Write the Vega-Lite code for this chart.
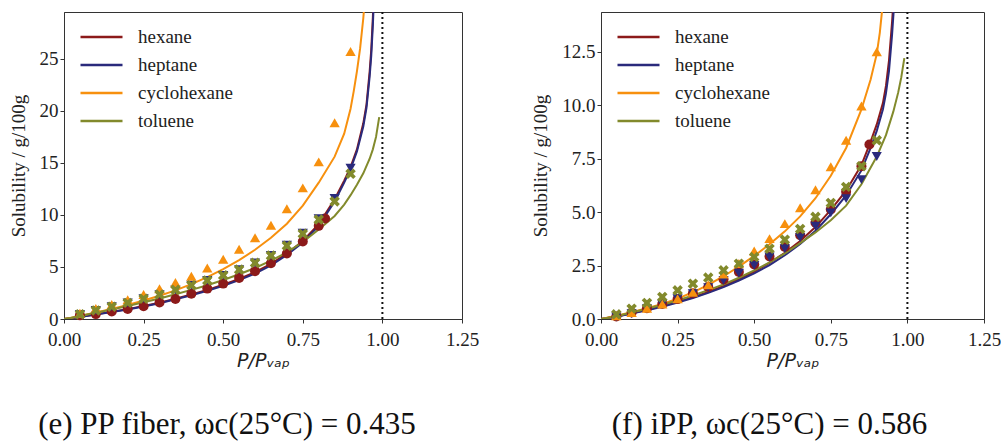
{
  "$schema": "https://vega.github.io/schema/vega-lite/v6.json",
  "background": "white",
  "padding": {"left": 8, "top": 10, "right": 0, "bottom": 0},
  "spacing": 139,
  "bounds": "flush",
  "config": {
    "view": {"stroke": "#333", "strokeWidth": 1},
    "scale": {"continuousPadding": 0},
    "axis": {
      "grid": false,
      "labelFlush": false,
      "labelFont": "Liberation Serif",
      "labelFontSize": 19,
      "labelColor": "#222",
      "tickColor": "#333",
      "domainColor": "#333",
      "tickSize": 4,
      "labelPadding": 2,
      "titleColor": "#222",
      "titleFontWeight": "normal"
    },
    "axisX": {"labelPadding": 7},
    "legend": {
      "orient": "none",
      "padding": 0,
      "symbolType": "M-2,0L2,0",
      "symbolSize": 441,
      "symbolStrokeWidth": 2.5,
      "symbolFillColor": "transparent",
      "labelFont": "Liberation Serif",
      "labelFontSize": 19,
      "labelColor": "#222",
      "labelOffset": 24.5,
      "rowPadding": 6,
      "title": null
    }
  },
  "resolve": {"legend": {"color": "independent"}, "scale": {"y": "independent"}},
  "datasets": {
    "lines": [
      {"p":"e","s":"hexane","x":0,"y":0},{"p":"e","s":"hexane","x":0.02,"y":0.07},{"p":"e","s":"hexane","x":0.05,"y":0.2},{"p":"e","s":"hexane","x":0.1,"y":0.45},{"p":"e","s":"hexane","x":0.15,"y":0.7},{"p":"e","s":"hexane","x":0.2,"y":0.95},{"p":"e","s":"hexane","x":0.25,"y":1.25},{"p":"e","s":"hexane","x":0.3,"y":1.57},{"p":"e","s":"hexane","x":0.35,"y":1.95},{"p":"e","s":"hexane","x":0.4,"y":2.35},{"p":"e","s":"hexane","x":0.45,"y":2.8},{"p":"e","s":"hexane","x":0.5,"y":3.3},{"p":"e","s":"hexane","x":0.55,"y":3.85},{"p":"e","s":"hexane","x":0.6,"y":4.5},{"p":"e","s":"hexane","x":0.65,"y":5.3},{"p":"e","s":"hexane","x":0.7,"y":6.3},{"p":"e","s":"hexane","x":0.75,"y":7.5},{"p":"e","s":"hexane","x":0.8,"y":9.1},{"p":"e","s":"hexane","x":0.85,"y":11.5},{"p":"e","s":"hexane","x":0.88,"y":13.3},{"p":"e","s":"hexane","x":0.9,"y":14.6},{"p":"e","s":"hexane","x":0.92,"y":16.3},{"p":"e","s":"hexane","x":0.94,"y":18.8},{"p":"e","s":"hexane","x":0.95,"y":20.6},{"p":"e","s":"hexane","x":0.96,"y":23.8},{"p":"e","s":"hexane","x":0.965,"y":25.9},{"p":"e","s":"hexane","x":0.97,"y":29.0},{"p":"e","s":"hexane","x":0.975,"y":33.0},
      {"p":"e","s":"heptane","x":0,"y":0},{"p":"e","s":"heptane","x":0.02,"y":0.07},{"p":"e","s":"heptane","x":0.05,"y":0.19},{"p":"e","s":"heptane","x":0.1,"y":0.44},{"p":"e","s":"heptane","x":0.15,"y":0.68},{"p":"e","s":"heptane","x":0.2,"y":0.92},{"p":"e","s":"heptane","x":0.25,"y":1.21},{"p":"e","s":"heptane","x":0.3,"y":1.52},{"p":"e","s":"heptane","x":0.35,"y":1.89},{"p":"e","s":"heptane","x":0.4,"y":2.28},{"p":"e","s":"heptane","x":0.45,"y":2.72},{"p":"e","s":"heptane","x":0.5,"y":3.2},{"p":"e","s":"heptane","x":0.55,"y":3.74},{"p":"e","s":"heptane","x":0.6,"y":4.37},{"p":"e","s":"heptane","x":0.65,"y":5.15},{"p":"e","s":"heptane","x":0.7,"y":6.15},{"p":"e","s":"heptane","x":0.75,"y":7.35},{"p":"e","s":"heptane","x":0.8,"y":8.95},{"p":"e","s":"heptane","x":0.85,"y":11.3},{"p":"e","s":"heptane","x":0.88,"y":13.1},{"p":"e","s":"heptane","x":0.9,"y":14.4},{"p":"e","s":"heptane","x":0.92,"y":16.1},{"p":"e","s":"heptane","x":0.94,"y":18.5},{"p":"e","s":"heptane","x":0.95,"y":20.3},{"p":"e","s":"heptane","x":0.96,"y":23.3},{"p":"e","s":"heptane","x":0.965,"y":25.3},{"p":"e","s":"heptane","x":0.97,"y":28.2},{"p":"e","s":"heptane","x":0.975,"y":32.0},
      {"p":"e","s":"cyclohexane","x":0,"y":0},{"p":"e","s":"cyclohexane","x":0.02,"y":0.1},{"p":"e","s":"cyclohexane","x":0.05,"y":0.3},{"p":"e","s":"cyclohexane","x":0.1,"y":0.62},{"p":"e","s":"cyclohexane","x":0.15,"y":0.97},{"p":"e","s":"cyclohexane","x":0.2,"y":1.35},{"p":"e","s":"cyclohexane","x":0.25,"y":1.77},{"p":"e","s":"cyclohexane","x":0.3,"y":2.23},{"p":"e","s":"cyclohexane","x":0.35,"y":2.75},{"p":"e","s":"cyclohexane","x":0.4,"y":3.35},{"p":"e","s":"cyclohexane","x":0.45,"y":4.02},{"p":"e","s":"cyclohexane","x":0.5,"y":4.8},{"p":"e","s":"cyclohexane","x":0.55,"y":5.65},{"p":"e","s":"cyclohexane","x":0.6,"y":6.65},{"p":"e","s":"cyclohexane","x":0.65,"y":7.8},{"p":"e","s":"cyclohexane","x":0.7,"y":9.15},{"p":"e","s":"cyclohexane","x":0.75,"y":10.9},{"p":"e","s":"cyclohexane","x":0.8,"y":13.1},{"p":"e","s":"cyclohexane","x":0.85,"y":15.6},{"p":"e","s":"cyclohexane","x":0.88,"y":17.8},{"p":"e","s":"cyclohexane","x":0.9,"y":20.2},{"p":"e","s":"cyclohexane","x":0.91,"y":21.9},{"p":"e","s":"cyclohexane","x":0.92,"y":23.8},{"p":"e","s":"cyclohexane","x":0.93,"y":26.0},{"p":"e","s":"cyclohexane","x":0.94,"y":28.9},{"p":"e","s":"cyclohexane","x":0.945,"y":30.8},
      {"p":"e","s":"toluene","x":0,"y":0},{"p":"e","s":"toluene","x":0.02,"y":0.1},{"p":"e","s":"toluene","x":0.05,"y":0.28},{"p":"e","s":"toluene","x":0.1,"y":0.6},{"p":"e","s":"toluene","x":0.15,"y":0.92},{"p":"e","s":"toluene","x":0.2,"y":1.25},{"p":"e","s":"toluene","x":0.25,"y":1.6},{"p":"e","s":"toluene","x":0.3,"y":1.97},{"p":"e","s":"toluene","x":0.35,"y":2.37},{"p":"e","s":"toluene","x":0.4,"y":2.8},{"p":"e","s":"toluene","x":0.45,"y":3.25},{"p":"e","s":"toluene","x":0.5,"y":3.75},{"p":"e","s":"toluene","x":0.55,"y":4.3},{"p":"e","s":"toluene","x":0.6,"y":4.9},{"p":"e","s":"toluene","x":0.65,"y":5.6},{"p":"e","s":"toluene","x":0.7,"y":6.4},{"p":"e","s":"toluene","x":0.75,"y":7.4},{"p":"e","s":"toluene","x":0.8,"y":8.6},{"p":"e","s":"toluene","x":0.85,"y":9.9},{"p":"e","s":"toluene","x":0.88,"y":11.0},{"p":"e","s":"toluene","x":0.9,"y":11.9},{"p":"e","s":"toluene","x":0.92,"y":12.9},{"p":"e","s":"toluene","x":0.94,"y":14.0},{"p":"e","s":"toluene","x":0.96,"y":15.4},{"p":"e","s":"toluene","x":0.97,"y":16.3},{"p":"e","s":"toluene","x":0.98,"y":17.5},{"p":"e","s":"toluene","x":0.99,"y":19.4},
      {"p":"f","s":"hexane","x":0,"y":0},{"p":"f","s":"hexane","x":0.02,"y":0.05},{"p":"f","s":"hexane","x":0.05,"y":0.12},{"p":"f","s":"hexane","x":0.1,"y":0.27},{"p":"f","s":"hexane","x":0.15,"y":0.43},{"p":"f","s":"hexane","x":0.2,"y":0.6},{"p":"f","s":"hexane","x":0.25,"y":0.8},{"p":"f","s":"hexane","x":0.3,"y":1.02},{"p":"f","s":"hexane","x":0.35,"y":1.27},{"p":"f","s":"hexane","x":0.4,"y":1.55},{"p":"f","s":"hexane","x":0.45,"y":1.87},{"p":"f","s":"hexane","x":0.5,"y":2.22},{"p":"f","s":"hexane","x":0.55,"y":2.62},{"p":"f","s":"hexane","x":0.6,"y":3.1},{"p":"f","s":"hexane","x":0.65,"y":3.65},{"p":"f","s":"hexane","x":0.7,"y":4.3},{"p":"f","s":"hexane","x":0.75,"y":5.1},{"p":"f","s":"hexane","x":0.8,"y":6.0},{"p":"f","s":"hexane","x":0.85,"y":7.2},{"p":"f","s":"hexane","x":0.88,"y":8.3},{"p":"f","s":"hexane","x":0.9,"y":9.1},{"p":"f","s":"hexane","x":0.92,"y":10.1},{"p":"f","s":"hexane","x":0.93,"y":10.9},{"p":"f","s":"hexane","x":0.94,"y":12.1},{"p":"f","s":"hexane","x":0.95,"y":13.9},{"p":"f","s":"hexane","x":0.955,"y":15.0},
      {"p":"f","s":"heptane","x":0,"y":0},{"p":"f","s":"heptane","x":0.02,"y":0.05},{"p":"f","s":"heptane","x":0.05,"y":0.11},{"p":"f","s":"heptane","x":0.1,"y":0.26},{"p":"f","s":"heptane","x":0.15,"y":0.41},{"p":"f","s":"heptane","x":0.2,"y":0.57},{"p":"f","s":"heptane","x":0.25,"y":0.77},{"p":"f","s":"heptane","x":0.3,"y":0.98},{"p":"f","s":"heptane","x":0.35,"y":1.22},{"p":"f","s":"heptane","x":0.4,"y":1.49},{"p":"f","s":"heptane","x":0.45,"y":1.8},{"p":"f","s":"heptane","x":0.5,"y":2.13},{"p":"f","s":"heptane","x":0.55,"y":2.52},{"p":"f","s":"heptane","x":0.6,"y":2.98},{"p":"f","s":"heptane","x":0.65,"y":3.51},{"p":"f","s":"heptane","x":0.7,"y":4.13},{"p":"f","s":"heptane","x":0.75,"y":4.9},{"p":"f","s":"heptane","x":0.8,"y":5.78},{"p":"f","s":"heptane","x":0.85,"y":6.95},{"p":"f","s":"heptane","x":0.88,"y":8.0},{"p":"f","s":"heptane","x":0.9,"y":8.8},{"p":"f","s":"heptane","x":0.92,"y":9.8},{"p":"f","s":"heptane","x":0.93,"y":10.55},{"p":"f","s":"heptane","x":0.94,"y":11.6},{"p":"f","s":"heptane","x":0.95,"y":13.3},{"p":"f","s":"heptane","x":0.958,"y":15.0},
      {"p":"f","s":"cyclohexane","x":0,"y":0},{"p":"f","s":"cyclohexane","x":0.02,"y":0.06},{"p":"f","s":"cyclohexane","x":0.05,"y":0.15},{"p":"f","s":"cyclohexane","x":0.1,"y":0.32},{"p":"f","s":"cyclohexane","x":0.15,"y":0.5},{"p":"f","s":"cyclohexane","x":0.2,"y":0.7},{"p":"f","s":"cyclohexane","x":0.25,"y":0.95},{"p":"f","s":"cyclohexane","x":0.3,"y":1.25},{"p":"f","s":"cyclohexane","x":0.35,"y":1.6},{"p":"f","s":"cyclohexane","x":0.4,"y":2.0},{"p":"f","s":"cyclohexane","x":0.45,"y":2.45},{"p":"f","s":"cyclohexane","x":0.5,"y":2.95},{"p":"f","s":"cyclohexane","x":0.55,"y":3.5},{"p":"f","s":"cyclohexane","x":0.6,"y":4.1},{"p":"f","s":"cyclohexane","x":0.65,"y":4.8},{"p":"f","s":"cyclohexane","x":0.7,"y":5.65},{"p":"f","s":"cyclohexane","x":0.75,"y":6.7},{"p":"f","s":"cyclohexane","x":0.8,"y":8.0},{"p":"f","s":"cyclohexane","x":0.85,"y":9.8},{"p":"f","s":"cyclohexane","x":0.88,"y":11.2},{"p":"f","s":"cyclohexane","x":0.9,"y":12.4},{"p":"f","s":"cyclohexane","x":0.91,"y":13.4},{"p":"f","s":"cyclohexane","x":0.92,"y":14.8},
      {"p":"f","s":"toluene","x":0,"y":0},{"p":"f","s":"toluene","x":0.02,"y":0.05},{"p":"f","s":"toluene","x":0.05,"y":0.13},{"p":"f","s":"toluene","x":0.1,"y":0.3},{"p":"f","s":"toluene","x":0.15,"y":0.48},{"p":"f","s":"toluene","x":0.2,"y":0.67},{"p":"f","s":"toluene","x":0.25,"y":0.87},{"p":"f","s":"toluene","x":0.3,"y":1.1},{"p":"f","s":"toluene","x":0.35,"y":1.35},{"p":"f","s":"toluene","x":0.4,"y":1.62},{"p":"f","s":"toluene","x":0.45,"y":1.93},{"p":"f","s":"toluene","x":0.5,"y":2.27},{"p":"f","s":"toluene","x":0.55,"y":2.65},{"p":"f","s":"toluene","x":0.6,"y":3.07},{"p":"f","s":"toluene","x":0.65,"y":3.55},{"p":"f","s":"toluene","x":0.7,"y":4.05},{"p":"f","s":"toluene","x":0.75,"y":4.62},{"p":"f","s":"toluene","x":0.8,"y":5.3},{"p":"f","s":"toluene","x":0.85,"y":6.3},{"p":"f","s":"toluene","x":0.9,"y":7.6},{"p":"f","s":"toluene","x":0.93,"y":8.6},{"p":"f","s":"toluene","x":0.954,"y":9.7},{"p":"f","s":"toluene","x":0.97,"y":10.6},{"p":"f","s":"toluene","x":0.98,"y":11.3},{"p":"f","s":"toluene","x":0.99,"y":12.2}
    ],
    "pts": [
      {"p":"e","s":"hexane","x":0.05,"y":0.35},{"p":"e","s":"hexane","x":0.1,"y":0.47},{"p":"e","s":"hexane","x":0.15,"y":0.72},{"p":"e","s":"hexane","x":0.2,"y":0.97},{"p":"e","s":"hexane","x":0.25,"y":1.23},{"p":"e","s":"hexane","x":0.3,"y":1.58},{"p":"e","s":"hexane","x":0.35,"y":1.92},{"p":"e","s":"hexane","x":0.4,"y":2.42},{"p":"e","s":"hexane","x":0.45,"y":2.92},{"p":"e","s":"hexane","x":0.5,"y":3.4},{"p":"e","s":"hexane","x":0.55,"y":3.95},{"p":"e","s":"hexane","x":0.6,"y":4.6},{"p":"e","s":"hexane","x":0.65,"y":5.35},{"p":"e","s":"hexane","x":0.7,"y":6.3},{"p":"e","s":"hexane","x":0.75,"y":7.45},{"p":"e","s":"hexane","x":0.8,"y":8.95},{"p":"e","s":"hexane","x":0.82,"y":9.65},
      {"p":"e","s":"heptane","x":0.05,"y":0.45},{"p":"e","s":"heptane","x":0.1,"y":0.82},{"p":"e","s":"heptane","x":0.15,"y":1.18},{"p":"e","s":"heptane","x":0.2,"y":1.55},{"p":"e","s":"heptane","x":0.25,"y":1.95},{"p":"e","s":"heptane","x":0.3,"y":2.35},{"p":"e","s":"heptane","x":0.35,"y":2.8},{"p":"e","s":"heptane","x":0.4,"y":3.25},{"p":"e","s":"heptane","x":0.45,"y":3.7},{"p":"e","s":"heptane","x":0.5,"y":4.2},{"p":"e","s":"heptane","x":0.55,"y":4.75},{"p":"e","s":"heptane","x":0.6,"y":5.4},{"p":"e","s":"heptane","x":0.65,"y":6.1},{"p":"e","s":"heptane","x":0.7,"y":7.1},{"p":"e","s":"heptane","x":0.75,"y":8.25},{"p":"e","s":"heptane","x":0.8,"y":9.65},{"p":"e","s":"heptane","x":0.85,"y":11.6},{"p":"e","s":"heptane","x":0.9,"y":14.5},
      {"p":"e","s":"cyclohexane","x":0.05,"y":0.55},{"p":"e","s":"cyclohexane","x":0.1,"y":1.0},{"p":"e","s":"cyclohexane","x":0.15,"y":1.4},{"p":"e","s":"cyclohexane","x":0.2,"y":1.85},{"p":"e","s":"cyclohexane","x":0.25,"y":2.35},{"p":"e","s":"cyclohexane","x":0.3,"y":2.9},{"p":"e","s":"cyclohexane","x":0.35,"y":3.5},{"p":"e","s":"cyclohexane","x":0.4,"y":4.1},{"p":"e","s":"cyclohexane","x":0.45,"y":4.9},{"p":"e","s":"cyclohexane","x":0.5,"y":5.75},{"p":"e","s":"cyclohexane","x":0.55,"y":6.7},{"p":"e","s":"cyclohexane","x":0.6,"y":7.8},{"p":"e","s":"cyclohexane","x":0.65,"y":9.0},{"p":"e","s":"cyclohexane","x":0.7,"y":10.6},{"p":"e","s":"cyclohexane","x":0.75,"y":12.6},{"p":"e","s":"cyclohexane","x":0.8,"y":15.1},{"p":"e","s":"cyclohexane","x":0.85,"y":18.85},{"p":"e","s":"cyclohexane","x":0.9,"y":25.7},
      {"p":"e","s":"toluene","x":0.05,"y":0.45},{"p":"e","s":"toluene","x":0.1,"y":0.82},{"p":"e","s":"toluene","x":0.15,"y":1.18},{"p":"e","s":"toluene","x":0.2,"y":1.55},{"p":"e","s":"toluene","x":0.25,"y":1.95},{"p":"e","s":"toluene","x":0.3,"y":2.35},{"p":"e","s":"toluene","x":0.35,"y":2.8},{"p":"e","s":"toluene","x":0.4,"y":3.25},{"p":"e","s":"toluene","x":0.45,"y":3.7},{"p":"e","s":"toluene","x":0.5,"y":4.2},{"p":"e","s":"toluene","x":0.55,"y":4.75},{"p":"e","s":"toluene","x":0.6,"y":5.4},{"p":"e","s":"toluene","x":0.65,"y":6.1},{"p":"e","s":"toluene","x":0.7,"y":7.05},{"p":"e","s":"toluene","x":0.75,"y":8.2},{"p":"e","s":"toluene","x":0.8,"y":9.55},{"p":"e","s":"toluene","x":0.85,"y":11.3},{"p":"e","s":"toluene","x":0.9,"y":13.95},
      {"p":"f","s":"hexane","x":0.05,"y":0.12},{"p":"f","s":"hexane","x":0.1,"y":0.3},{"p":"f","s":"hexane","x":0.15,"y":0.5},{"p":"f","s":"hexane","x":0.2,"y":0.7},{"p":"f","s":"hexane","x":0.25,"y":0.93},{"p":"f","s":"hexane","x":0.3,"y":1.2},{"p":"f","s":"hexane","x":0.35,"y":1.5},{"p":"f","s":"hexane","x":0.4,"y":1.85},{"p":"f","s":"hexane","x":0.45,"y":2.2},{"p":"f","s":"hexane","x":0.5,"y":2.55},{"p":"f","s":"hexane","x":0.55,"y":2.92},{"p":"f","s":"hexane","x":0.6,"y":3.37},{"p":"f","s":"hexane","x":0.65,"y":3.92},{"p":"f","s":"hexane","x":0.7,"y":4.5},{"p":"f","s":"hexane","x":0.75,"y":5.12},{"p":"f","s":"hexane","x":0.8,"y":5.95},{"p":"f","s":"hexane","x":0.85,"y":7.15},{"p":"f","s":"hexane","x":0.876,"y":8.16},
      {"p":"f","s":"heptane","x":0.05,"y":0.1},{"p":"f","s":"heptane","x":0.1,"y":0.25},{"p":"f","s":"heptane","x":0.15,"y":0.48},{"p":"f","s":"heptane","x":0.2,"y":0.69},{"p":"f","s":"heptane","x":0.25,"y":0.95},{"p":"f","s":"heptane","x":0.3,"y":1.19},{"p":"f","s":"heptane","x":0.35,"y":1.47},{"p":"f","s":"heptane","x":0.4,"y":1.81},{"p":"f","s":"heptane","x":0.45,"y":2.15},{"p":"f","s":"heptane","x":0.5,"y":2.51},{"p":"f","s":"heptane","x":0.55,"y":2.9},{"p":"f","s":"heptane","x":0.6,"y":3.29},{"p":"f","s":"heptane","x":0.65,"y":3.81},{"p":"f","s":"heptane","x":0.7,"y":4.34},{"p":"f","s":"heptane","x":0.75,"y":4.96},{"p":"f","s":"heptane","x":0.8,"y":5.63},{"p":"f","s":"heptane","x":0.85,"y":6.52},{"p":"f","s":"heptane","x":0.9,"y":7.6},
      {"p":"f","s":"cyclohexane","x":0.05,"y":0.15},{"p":"f","s":"cyclohexane","x":0.1,"y":0.3},{"p":"f","s":"cyclohexane","x":0.15,"y":0.5},{"p":"f","s":"cyclohexane","x":0.2,"y":0.7},{"p":"f","s":"cyclohexane","x":0.25,"y":0.95},{"p":"f","s":"cyclohexane","x":0.3,"y":1.25},{"p":"f","s":"cyclohexane","x":0.35,"y":1.6},{"p":"f","s":"cyclohexane","x":0.4,"y":2.1},{"p":"f","s":"cyclohexane","x":0.45,"y":2.6},{"p":"f","s":"cyclohexane","x":0.5,"y":3.18},{"p":"f","s":"cyclohexane","x":0.55,"y":3.76},{"p":"f","s":"cyclohexane","x":0.6,"y":4.46},{"p":"f","s":"cyclohexane","x":0.65,"y":5.2},{"p":"f","s":"cyclohexane","x":0.7,"y":6.05},{"p":"f","s":"cyclohexane","x":0.75,"y":7.12},{"p":"f","s":"cyclohexane","x":0.8,"y":8.36},{"p":"f","s":"cyclohexane","x":0.85,"y":9.96},{"p":"f","s":"cyclohexane","x":0.9,"y":12.5},
      {"p":"f","s":"toluene","x":0.05,"y":0.22},{"p":"f","s":"toluene","x":0.1,"y":0.48},{"p":"f","s":"toluene","x":0.15,"y":0.75},{"p":"f","s":"toluene","x":0.2,"y":1.03},{"p":"f","s":"toluene","x":0.25,"y":1.34},{"p":"f","s":"toluene","x":0.3,"y":1.65},{"p":"f","s":"toluene","x":0.35,"y":1.94},{"p":"f","s":"toluene","x":0.4,"y":2.28},{"p":"f","s":"toluene","x":0.45,"y":2.59},{"p":"f","s":"toluene","x":0.5,"y":2.9},{"p":"f","s":"toluene","x":0.55,"y":3.29},{"p":"f","s":"toluene","x":0.6,"y":3.71},{"p":"f","s":"toluene","x":0.65,"y":4.21},{"p":"f","s":"toluene","x":0.7,"y":4.78},{"p":"f","s":"toluene","x":0.75,"y":5.43},{"p":"f","s":"toluene","x":0.8,"y":6.18},{"p":"f","s":"toluene","x":0.85,"y":7.15},{"p":"f","s":"toluene","x":0.9,"y":8.36}
    ]
  },
  "hconcat": [
    {
      "width": 398,
      "height": 307,
      "title": {"text": "(e) PP fiber, ωc(25°C) = 0.435", "orient": "bottom", "font": "Liberation Serif", "fontSize": 31, "fontWeight": "normal", "color": "#111", "offset": 40, "dx": -36},
      "layer": [
        {
          "data": {"name": "lines"},
          "transform": [{"filter": "datum.p == 'e'"}],
          "mark": {"type": "line", "strokeWidth": 2, "clip": true},
          "encoding": {
            "x": {"field": "x", "type": "quantitative", "scale": {"domain": [0, 1.25], "nice": false, "padding": 0, "zero": false},
                  "axis": {"values": [0, 0.25, 0.5, 0.75, 1, 1.25], "format": ".2f", "title": "P/Pᵥₐₚ", "titleFont": "DejaVu Sans", "titleFontStyle": "italic", "titleFontSize": 19, "titlePadding": 2}},
            "y": {"field": "y", "type": "quantitative", "scale": {"domain": [0, 29.5], "nice": false, "padding": 0},
                  "axis": {"values": [0, 5, 10, 15, 20, 25], "format": "d", "title": "Solubility / g/100g", "titleFont": "Liberation Serif", "titleFontSize": 19, "titlePadding": 11}},
            "color": {"field": "s", "type": "nominal",
                      "scale": {"domain": ["hexane", "heptane", "cyclohexane", "toluene"], "range": ["#8c1a1a", "#2a2a7c", "#f7900e", "#828a2c"]},
                      "legend": {"orient": "none", "legendX": 25.5, "legendY": 13}}
          }
        },
        {
          "data": {"values": [{"x": 1}]},
          "mark": {"type": "rule", "color": "#111", "strokeWidth": 2, "strokeDash": [2, 3]},
          "encoding": {"x": {"field": "x", "type": "quantitative", "scale": {"domain": [0, 1.25], "nice": false, "padding": 0, "zero": false}}}
        },
        {
          "data": {"name": "pts"},
          "transform": [{"filter": "datum.p == 'e'"}],
          "mark": {"type": "point", "filled": true, "opacity": 1},
          "encoding": {
            "x": {"field": "x", "type": "quantitative", "scale": {"domain": [0, 1.25], "nice": false, "padding": 0, "zero": false}},
            "y": {"field": "y", "type": "quantitative", "scale": {"domain": [0, 29.5], "nice": false, "padding": 0}},
            "color": {"field": "s", "type": "nominal", "legend": null},
            "size": {"field": "s", "type": "nominal", "scale": {"domain": ["hexane", "heptane", "cyclohexane", "toluene"], "range": [100, 110, 110, 140]}, "legend": null},
            "shape": {"field": "s", "type": "nominal",
                      "scale": {"domain": ["hexane", "heptane", "cyclohexane", "toluene"], "range": ["circle", "triangle-down", "triangle-up", "M-0.5,-1L0,-0.5L0.5,-1L1,-0.5L0.5,0L1,0.5L0.5,1L0,0.5L-0.5,1L-1,0.5L-0.5,0L-1,-0.5Z"]},
                      "legend": null}
          }
        }
      ]
    },
    {
      "width": 383,
      "height": 307,
      "title": {"text": "(f) iPP, ωc(25°C) = 0.586", "orient": "bottom", "font": "Liberation Serif", "fontSize": 31, "fontWeight": "normal", "color": "#111", "offset": 40, "dx": -23},
      "layer": [
        {
          "data": {"name": "lines"},
          "transform": [{"filter": "datum.p == 'f'"}],
          "mark": {"type": "line", "strokeWidth": 2, "clip": true},
          "encoding": {
            "x": {"field": "x", "type": "quantitative", "scale": {"domain": [0, 1.25], "nice": false, "padding": 0, "zero": false},
                  "axis": {"values": [0, 0.25, 0.5, 0.75, 1, 1.25], "format": ".2f", "title": "P/Pᵥₐₚ", "titleFont": "DejaVu Sans", "titleFontStyle": "italic", "titleFontSize": 19, "titlePadding": 2}},
            "y": {"field": "y", "type": "quantitative", "scale": {"domain": [0, 14.36], "nice": false, "padding": 0},
                  "axis": {"values": [0, 2.5, 5, 7.5, 10, 12.5], "format": ".1f", "title": "Solubility / g/100g", "titleFont": "Liberation Serif", "titleFontSize": 19, "titlePadding": 11}},
            "color": {"field": "s", "type": "nominal",
                      "scale": {"domain": ["hexane", "heptane", "cyclohexane", "toluene"], "range": ["#8c1a1a", "#2a2a7c", "#f7900e", "#828a2c"]},
                      "legend": {"orient": "none", "legendX": 25.5, "legendY": 13}}
          }
        },
        {
          "data": {"values": [{"x": 1}]},
          "mark": {"type": "rule", "color": "#111", "strokeWidth": 2, "strokeDash": [2, 3]},
          "encoding": {"x": {"field": "x", "type": "quantitative", "scale": {"domain": [0, 1.25], "nice": false, "padding": 0, "zero": false}}}
        },
        {
          "data": {"name": "pts"},
          "transform": [{"filter": "datum.p == 'f'"}],
          "mark": {"type": "point", "filled": true, "opacity": 1},
          "encoding": {
            "x": {"field": "x", "type": "quantitative", "scale": {"domain": [0, 1.25], "nice": false, "padding": 0, "zero": false}},
            "y": {"field": "y", "type": "quantitative", "scale": {"domain": [0, 14.36], "nice": false, "padding": 0}},
            "color": {"field": "s", "type": "nominal", "legend": null},
            "size": {"field": "s", "type": "nominal", "scale": {"domain": ["hexane", "heptane", "cyclohexane", "toluene"], "range": [100, 110, 110, 140]}, "legend": null},
            "shape": {"field": "s", "type": "nominal",
                      "scale": {"domain": ["hexane", "heptane", "cyclohexane", "toluene"], "range": ["circle", "triangle-down", "triangle-up", "M-0.5,-1L0,-0.5L0.5,-1L1,-0.5L0.5,0L1,0.5L0.5,1L0,0.5L-0.5,1L-1,0.5L-0.5,0L-1,-0.5Z"]},
                      "legend": null}
          }
        }
      ]
    }
  ]
}
